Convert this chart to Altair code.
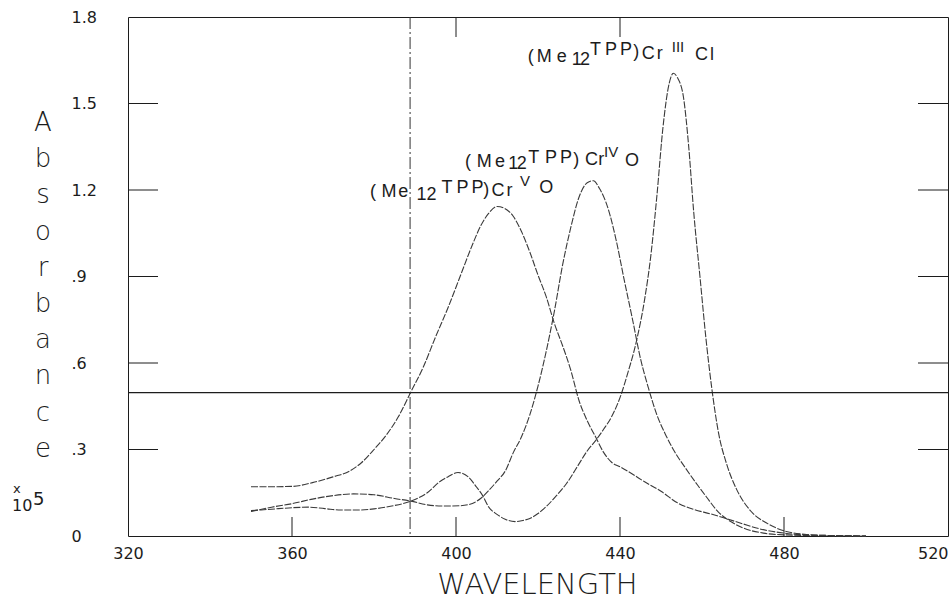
import altair as alt
import pandas as pd

# ---------------- data ----------------
WL_V = [350, 355, 360, 365, 370, 374, 377, 380, 383, 386, 389, 392, 395, 398, 401, 404, 406, 408, 410, 412,
        414, 416, 418, 420, 422, 424, 426, 428, 430, 432, 434, 436, 438, 440, 443, 446, 450, 454, 458, 462,
        466, 470, 474, 478, 482, 488, 500]
ABS_V = [0.171, 0.171, 0.172, 0.185, 0.205, 0.225, 0.255, 0.30, 0.35, 0.415, 0.50, 0.585, 0.69, 0.79, 0.90,
         1.01, 1.075, 1.12, 1.143, 1.135, 1.108, 1.055, 0.985, 0.905, 0.83, 0.737, 0.66, 0.575, 0.47, 0.40,
         0.345, 0.29, 0.255, 0.24, 0.215, 0.188, 0.155, 0.115, 0.092, 0.077, 0.06, 0.042, 0.025, 0.014,
         0.007, 0.003, 0.0]

WL_IV = [350, 355, 360, 365, 370, 375, 380, 385, 389, 393, 397, 401, 404, 406, 408, 410, 412, 414, 416, 418,
         420, 422, 424, 426, 428, 430, 432, 433.5, 435, 437, 439, 441, 443, 445, 447, 449, 451, 453, 456, 459,
         461, 464, 467, 470, 475, 480, 490, 500]
ABS_IV = [0.085, 0.10, 0.112, 0.128, 0.14, 0.146, 0.143, 0.13, 0.121, 0.108, 0.104, 0.105, 0.113, 0.13, 0.158,
          0.19, 0.225, 0.29, 0.345, 0.42, 0.52, 0.64, 0.78, 0.94, 1.07, 1.175, 1.225, 1.232, 1.205, 1.14,
          1.03, 0.89, 0.755, 0.615, 0.51, 0.42, 0.355, 0.30, 0.235, 0.175, 0.137, 0.083, 0.05, 0.028, 0.01,
          0.004, 0.001, 0.0]

WL_III = [350, 355, 360, 364, 368, 372, 376, 380, 384, 389, 393, 396, 398, 400.5, 403, 405, 406.5, 408, 410,
          412, 414.4, 416, 418, 420, 422, 424.5, 427, 430, 432, 434, 436, 438, 440, 442, 444, 446, 447.5, 449,
          450.5, 452, 453, 454, 455.5, 456.7, 458, 459.5, 461, 462.5, 464, 466, 468.5, 472, 476, 480, 485,
          490, 500]
ABS_III = [0.088, 0.093, 0.098, 0.10, 0.095, 0.09, 0.09, 0.094, 0.103, 0.121, 0.15, 0.188, 0.205, 0.22, 0.205,
           0.17, 0.14, 0.10, 0.075, 0.058, 0.05, 0.053, 0.061, 0.078, 0.102, 0.14, 0.183, 0.25, 0.295, 0.33,
           0.37, 0.415, 0.48, 0.57, 0.675, 0.82, 0.97, 1.18, 1.42, 1.57, 1.605, 1.59, 1.52, 1.36, 1.12, 0.90,
           0.68, 0.50, 0.36, 0.25, 0.16, 0.085, 0.043, 0.018, 0.006, 0.002, 0.0]

SERIES = ["CrV", "CrIV", "CrIII"]

X_LABELS = [320, 360, 400, 440, 480, 520]
Y_LABELS = [0, 0.3, 0.6, 0.9, 1.2, 1.5, 1.8]
X_TICKS_BOTTOM = [360, 400, 440, 480]
X_TICKS_TOP = [400, 440]
Y_TICKS = [0.3, 0.6, 0.9, 1.2, 1.5]
CURSOR_WL = [388.8]
CURSOR_A = [0.497]

# label anchors (wavelength, absorbance) of each curve label
LABEL_ANCHORS = {"CrV": (379.0, 1.177), "CrIV": (402.2, 1.281), "CrIII": (417.5, 1.645)}

# ---------------- build chart ----------------
FONT = "DejaVu Sans"
LFONT = "Liberation Sans"
INK = "#1c1c1c"
W, H = 820, 519

frames = []
for name, wl, ab in [("CrV", WL_V, ABS_V), ("CrIV", WL_IV, ABS_IV), ("CrIII", WL_III, ABS_III)]:
    frames.append(pd.DataFrame({"wl": wl, "A": ab, "series": name}))
curves = pd.concat(frames, ignore_index=True)
ONE = pd.DataFrame({"k": [0]})

x_scale = alt.Scale(domain=[320, 520], nice=False, zero=False)
y_scale = alt.Scale(domain=[0, 1.8], nice=False, zero=False)

y_label_expr = ("datum.value == 0 ? '0' : (datum.value < 1 ? "
                "replace(format(datum.value, '.1f'), '0.', '.') : format(datum.value, '.1f'))")

x_axis = alt.Axis(
    values=X_LABELS, ticks=False, domain=False, grid=False, labelFlush=False,
    labelOverlap=False, labelPadding=9, labelFontSize=16, labelFont=FONT, labelColor=INK,
    labelAlign=alt.condition("datum.value == 520", alt.value("right"), alt.value("center")),
    title="WAVELENGTH", titleFont=FONT, titleFontSize=29, titleFontWeight=200,
    titleColor=INK, titleX=409, titleY=57, titleAlign="center", titleBaseline="alphabetic")
y_axis = alt.Axis(
    values=Y_LABELS, ticks=False, domain=False, grid=False, labelOverlap=False,
    labelPadding=57, labelAlign="left", labelBaseline="middle", labelExpr=y_label_expr,
    labelFontSize=16, labelFont=FONT, labelColor=INK, title=None)

lines = alt.Chart(curves).mark_line(
    color="#3a3a3a", strokeWidth=1.1, strokeDash=[7, 1.5], interpolate="monotone"
).encode(
    x=alt.X("wl:Q", scale=x_scale, axis=x_axis),
    y=alt.Y("A:Q", scale=y_scale, axis=y_axis),
    detail="series:N",
)

hline = alt.Chart(pd.DataFrame({"v": CURSOR_A})).mark_rule(color=INK, strokeWidth=1.2).encode(
    y=alt.Y("v:Q", scale=y_scale, axis=y_axis), x=alt.value(0), x2=alt.value(W))
vline = alt.Chart(pd.DataFrame({"v": CURSOR_WL})).mark_rule(
    color="#333333", strokeWidth=1, strokeDash=[12, 3, 2, 3]).encode(
    x=alt.X("v:Q", scale=x_scale, axis=x_axis), y=alt.value(0), y2=alt.value(H))

yt = pd.DataFrame({"v": Y_TICKS})
left_ticks = alt.Chart(yt).mark_rule(color=INK, strokeWidth=1).encode(
    y=alt.Y("v:Q", scale=y_scale, axis=y_axis), x=alt.value(0), x2=alt.value(30))
right_ticks = alt.Chart(yt).mark_rule(color=INK, strokeWidth=1).encode(
    y=alt.Y("v:Q", scale=y_scale, axis=y_axis), x=alt.value(W - 30), x2=alt.value(W))
bottom_ticks = alt.Chart(pd.DataFrame({"v": X_TICKS_BOTTOM})).mark_rule(color=INK, strokeWidth=1).encode(
    x=alt.X("v:Q", scale=x_scale, axis=x_axis), y=alt.value(H), y2=alt.value(H - 19))
top_ticks = alt.Chart(pd.DataFrame({"v": X_TICKS_TOP})).mark_rule(color=INK, strokeWidth=1).encode(
    x=alt.X("v:Q", scale=x_scale, axis=x_axis), y=alt.value(0), y2=alt.value(20))

ytitle = alt.Chart(ONE).mark_text(
    text=list("Absorbance"), lineHeight=36.2, fontSize=26, fontWeight=200, align="center",
    baseline="middle", font=FONT, color=INK).encode(x=alt.value(-85), y=alt.value(106))

mult = [
    alt.Chart(ONE).mark_text(text="x", fontSize=13, align="left", baseline="alphabetic", font=FONT,
                             color=INK).encode(x=alt.value(-115), y=alt.value(476)),
    alt.Chart(ONE).mark_text(text="10", fontSize=16, align="left", baseline="alphabetic", font=FONT,
                             color=INK).encode(x=alt.value(-116), y=alt.value(494)),
    alt.Chart(ONE).mark_text(text="5", fontSize=18, align="left", baseline="alphabetic", font=FONT,
                             color=INK).encode(x=alt.value(-95), y=alt.value(488)),
]

# glyph pieces of each label: (text, dx, dy, size)
PIECES = {
    "CrV": [("(", 0, 0, 18), ("M", 11.7, 0, 18), ("e", 28.3, 0, 18), ("1", 46.7, 3.3, 18),
            ("2", 56.7, 3.3, 18), ("T", 71.7, -3.4, 18), ("P", 86.7, -3.4, 18), ("P", 101.7, -3.4, 18),
            (")", 113.3, -1.7, 18), ("C", 121.7, -0.7, 18), ("r", 136.7, -0.7, 18), ("V", 150, -10.7, 15),
            ("O", 169.3, -3.4, 18)],
    "CrIV": [("(", 0, 0, 18), ("M", 11.7, 0, 18), ("e", 30, 0, 18), ("1", 43.3, 2, 18),
             ("2", 51.7, 2, 18), ("T", 63.3, -3.4, 18), ("P", 80, -3.4, 18), ("P", 95, -3.4, 18),
             (")", 108.3, -2, 18), ("C", 120, -1.7, 18), ("r", 133.3, -1.7, 18), ("IV", 139, -10, 15),
             ("O", 160, -0.7, 18)],
    "CrIII": [("(", 0, 0, 18), ("M", 9, 0, 18), ("e", 29, 0, 18), ("1", 44, 3, 18),
              ("2", 52.3, 3, 18), ("T", 62.3, -6.7, 18), ("P", 77.3, -6.7, 18), ("P", 92.3, -6.7, 18),
              (")", 105.6, -5, 18), ("C", 114, -2.4, 18), ("r", 129, -2.4, 18), ("III", 144, -10, 15),
              ("C", 167.3, -1.7, 18), ("l", 182.3, -1.7, 18)],
}

labels = []
for s in SERIES:
    nm, a = LABEL_ANCHORS[s]
    for txt, dx, dy, size in PIECES[s]:
        labels.append(
            alt.Chart(ONE).mark_text(text=txt, dx=dx, dy=dy, fontSize=size, align="left",
                                     baseline="alphabetic", font=LFONT, color=INK).encode(
                x=alt.XDatum(nm, type="quantitative", scale=x_scale, axis=x_axis),
                y=alt.YDatum(a, type="quantitative", scale=y_scale, axis=y_axis))
        )

chart = alt.layer(
    lines, hline, vline, left_ticks, right_ticks, bottom_ticks, top_ticks, ytitle, *mult, *labels
).properties(
    width=W, height=H,
    autosize=alt.AutoSizeParams(type="none"),
    padding={"left": 128, "top": 17, "right": 2, "bottom": 66},
    background="white",
).configure_view(stroke=INK, strokeWidth=1)

chart.save("out.html", embed_options={"renderer": "svg", "actions": False})
